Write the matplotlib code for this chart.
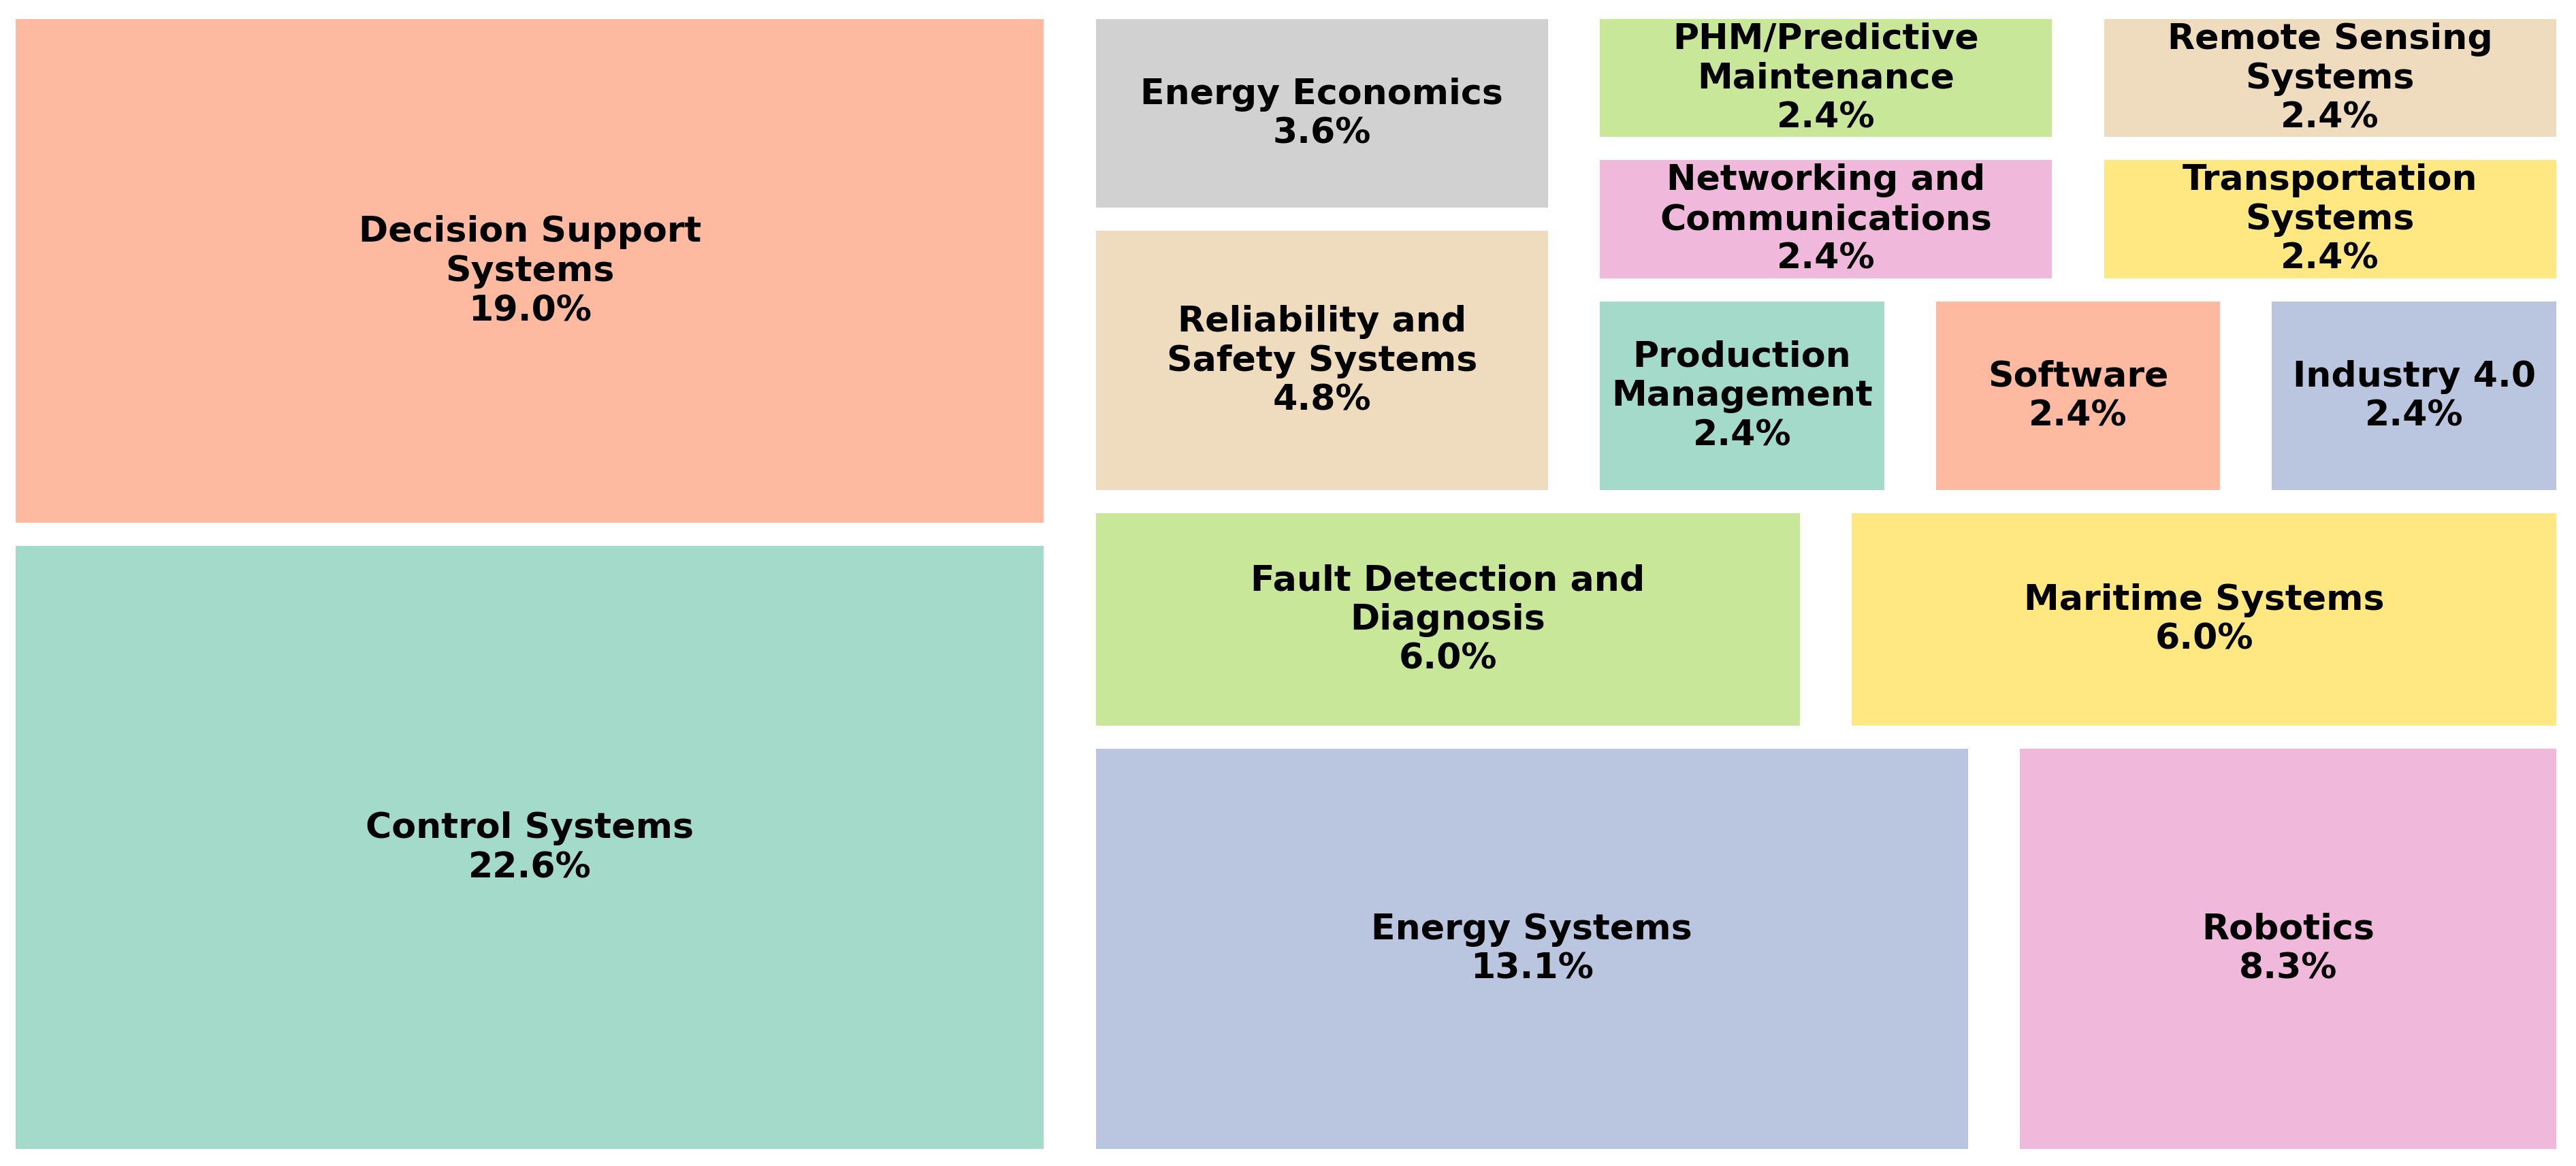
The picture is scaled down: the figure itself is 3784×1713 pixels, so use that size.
import textwrap
import matplotlib
matplotlib.use("Agg")
import matplotlib.pyplot as plt
from matplotlib.patches import Rectangle

# ---- data ----
categories = [
    "Control Systems", "Decision Support Systems", "Energy Systems", "Robotics",
    "Fault Detection and Diagnosis", "Maritime Systems", "Reliability and Safety Systems",
    "Energy Economics", "Production Management", "Software", "Industry 4.0",
    "Networking and Communications", "PHM/Predictive Maintenance",
    "Transportation Systems", "Remote Sensing Systems",
]
counts = [19, 16, 11, 7, 5, 5, 4, 3, 2, 2, 2, 2, 2, 2, 2]
palette = ["#66c2a5", "#fc8d62", "#8da0cb", "#e78ac3",
           "#a6d854", "#ffd92f", "#e5c494", "#b3b3b3"]


# ---- squarify layout ----
def layoutrow(sizes, x, y, dx, dy):
    width = sum(sizes) / dy
    rects = []
    for s in sizes:
        rects.append([x, y, width, s / width])
        y += s / width
    return rects


def layoutcol(sizes, x, y, dx, dy):
    height = sum(sizes) / dx
    rects = []
    for s in sizes:
        rects.append([x, y, s / height, height])
        x += s / height
    return rects


def layout(sizes, x, y, dx, dy):
    return layoutrow(sizes, x, y, dx, dy) if dx >= dy else layoutcol(sizes, x, y, dx, dy)


def leftover(sizes, x, y, dx, dy):
    if dx >= dy:
        w = sum(sizes) / dy
        return x + w, y, dx - w, dy
    h = sum(sizes) / dx
    return x, y + h, dx, dy - h


def worst(sizes, x, y, dx, dy):
    return max(max(r[2] / r[3], r[3] / r[2]) for r in layout(sizes, x, y, dx, dy))


def squarify(sizes, x, y, dx, dy):
    if len(sizes) == 0:
        return []
    if len(sizes) == 1:
        return layout(sizes, x, y, dx, dy)
    i = 1
    while i < len(sizes) and worst(sizes[:i], x, y, dx, dy) >= worst(sizes[:i + 1], x, y, dx, dy):
        i += 1
    cur, rem = sizes[:i], sizes[i:]
    lx, ly, ldx, ldy = leftover(cur, x, y, dx, dy)
    return layout(cur, x, y, dx, dy) + squarify(rem, lx, ly, ldx, ldy)


W, H = 100.0, 100.0
total = sum(counts)
norm = [c * W * H / total for c in counts]
rects = squarify(norm, 0, 0, W, H)
for r in rects:
    if r[2] > 2:
        r[0] += 1
        r[2] -= 2
    if r[3] > 2:
        r[1] += 1
        r[3] -= 2

# ---- plot ----
FW, FH, DPI = 3784, 1714, 300
fig = plt.figure(figsize=(FW / DPI, FH / DPI), dpi=DPI)
ax = fig.add_axes([-15.1 / FW, 8 / FH, 3808 / FW, 1694 / FH])
ax.set_xlim(0, W)
ax.set_ylim(0, H)
ax.axis("off")

for i, (r, cat, c) in enumerate(zip(rects, categories, counts)):
    col = palette[i % len(palette)]
    ax.add_patch(Rectangle((r[0], r[1]), r[2], r[3], facecolor=col, alpha=0.6,
                           edgecolor="none"))
    label = textwrap.fill(cat, 20) + f"\n{c / total * 100:.1f}%"
    ax.text(r[0] + r[2] / 2, r[1] + r[3] / 2, label, ha="center", va="center",
            fontsize=12.5, fontweight="bold", color="black", family="DejaVu Sans")

fig.savefig("out.png", dpi=DPI, facecolor="white")
